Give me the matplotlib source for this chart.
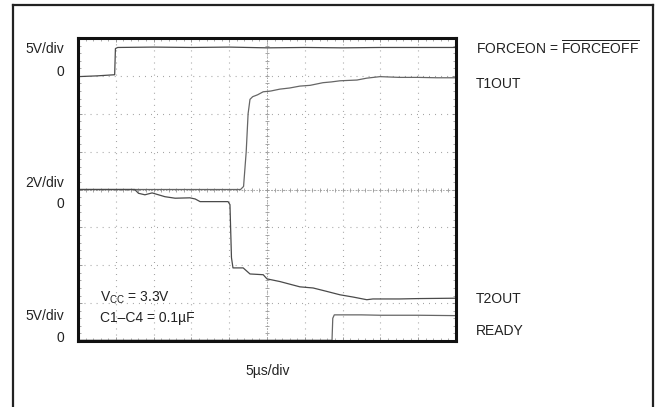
import numpy as np
import matplotlib
matplotlib.use("Agg")
import matplotlib.pyplot as plt
from matplotlib.lines import Line2D

plt.rcParams['font.family'] = ['Liberation Sans', 'DejaVu Sans']
plt.rcParams['mathtext.fontset'] = 'custom'
plt.rcParams['mathtext.rm'] = 'Liberation Sans'
plt.rcParams['mathtext.it'] = 'Liberation Sans:italic'

# ---- data (time in divisions, amplitude in divisions from bottom) ----
forceon_t = [0, 0.5, 0.97, 0.99, 1.05, 2, 3, 4, 5, 6, 7, 8, 9, 10]
forceon_v = [6.98, 7.0, 7.03, 7.72, 7.75, 7.76, 7.75, 7.76, 7.74, 7.75, 7.74, 7.75, 7.75, 7.75]

t1out_t = [0, 4.3, 4.38, 4.45, 4.5, 4.55, 4.62, 4.75, 4.9, 5.1, 5.34, 5.6, 5.87,
           6.14, 6.48, 6.7, 6.93, 7.15, 7.38, 7.64, 7.99, 8.5, 9, 9.5, 10]
t1out_v = [4.0, 4.0, 4.08, 5.0, 6.0, 6.38, 6.45, 6.5, 6.58, 6.6, 6.65, 6.68, 6.73,
           6.75, 6.82, 6.84, 6.87, 6.88, 6.89, 6.94, 6.98, 6.96, 6.96, 6.95, 6.95]

t2out_t = [0, 1.5, 1.6, 1.77, 1.96, 2.3, 2.57, 2.96, 3.1, 3.23, 3.62, 3.97, 4.02,
           4.06, 4.1, 4.37, 4.55, 4.9, 5.0, 5.34, 5.87, 6.22, 6.58, 6.93, 7.28,
           7.64, 7.8, 8.5, 9, 10]
t2out_v = [4.0, 4.0, 3.9, 3.86, 3.91, 3.81, 3.77, 3.78, 3.75, 3.68, 3.68, 3.68, 3.6,
           2.2, 1.93, 1.93, 1.77, 1.75, 1.64, 1.57, 1.43, 1.4, 1.31, 1.22, 1.16,
           1.09, 1.11, 1.11, 1.12, 1.13]

ready_t = [0, 6.72, 6.74, 6.78, 7.5, 8, 9, 10]
ready_v = [0.02, 0.02, 0.6, 0.69, 0.69, 0.68, 0.68, 0.67]

W, H = 656, 407
fig = plt.figure(figsize=(W / 100, H / 100), dpi=100)

def fx(px):
    return px / W

def fy(py):
    return 1 - py / H

# outer frame (left, top, right; bottom runs off the image)
lc = '#222222'
fig.add_artist(Line2D([fx(13), fx(13)], [fy(410), fy(5)], color=lc, lw=1.6))
fig.add_artist(Line2D([fx(13), fx(653)], [fy(5), fy(5)], color=lc, lw=1.6))
fig.add_artist(Line2D([fx(653), fx(653)], [fy(5), fy(410)], color=lc, lw=1.6))

ax = fig.add_axes([fx(78), fy(341), fx(456) - fx(78), fy(38) - fy(341)])
ax.set_xlim(0, 10)
ax.set_ylim(0, 8)
for s in ax.spines.values():
    s.set_linewidth(2.2)
    s.set_color('#111111')

ax.set_xticks(np.arange(0, 11, 1))
ax.set_yticks(np.arange(0, 9, 1))
ax.set_xticks(np.arange(0, 10.01, 0.2), minor=True)
ax.set_yticks(np.arange(0, 8.01, 0.2), minor=True)
ax.tick_params(which='both', direction='in', top=True, right=True,
               labelbottom=False, labelleft=False, color='#888888')
ax.tick_params(which='major', length=3, width=0.6)
ax.tick_params(which='minor', length=2, width=0.5)

ax.grid(True, which='major', color='#999999', lw=0.8, linestyle=(0, (0.8, 4.64)))

# center crosshair with small ticks
ax.axhline(4, color='#aaaaaa', lw=0.7, linestyle=(0, (1.5, 1.5)))
ax.axvline(5, color='#aaaaaa', lw=0.7, linestyle=(0, (1.5, 1.5)))
ax.plot(np.arange(0, 10.01, 0.2), np.full(51, 4.0), ls='none', marker='|',
        ms=3, mew=0.6, color='#999999')
ax.plot(np.full(41, 5.0), np.arange(0, 8.01, 0.2), ls='none', marker='_',
        ms=3, mew=0.6, color='#999999')

tc = '#4a4a4a'
ax.plot(forceon_t, forceon_v, color=tc, lw=0.9)
ax.plot(t1out_t, t1out_v, color='#666666', lw=0.9)
ax.plot(t2out_t, t2out_v, color=tc, lw=0.9)
ax.plot(ready_t, ready_v, color='#666666', lw=0.9)

fs = 10
tcol = '#222222'
# left scale labels
for txt, py in [('5V/div', 53), ('0', 76), ('2V/div', 187), ('0', 208),
                ('5V/div', 320), ('0', 342)]:
    fig.text(fx(64), fy(py), txt, ha='right', va='baseline', fontsize=fs, color=tcol)

# right trace labels
fig.text(fx(476), fy(55), r'FORCEON = $\overline{\mathrm{FORCEOFF}}$',
         ha='left', va='baseline', fontsize=fs, color=tcol)
for txt, py in [('T1OUT', 88), ('T2OUT', 303), ('READY', 335)]:
    fig.text(fx(476), fy(py), txt, ha='left', va='baseline', fontsize=fs, color=tcol)

fig.text(fx(100), fy(302), r'V$_{\mathrm{CC}}$ = 3.3V', ha='left', va='baseline',
         fontsize=fs, color=tcol)
fig.text(fx(100), fy(322), 'C1\u2013C4 = 0.1\u00b5F', ha='left', va='baseline',
         fontsize=fs, color=tcol)
fig.text(fx(245), fy(375), '5\u00b5s/div', ha='left', va='baseline',
         fontsize=fs, color=tcol)

fig.savefig('out.png', dpi=100)
